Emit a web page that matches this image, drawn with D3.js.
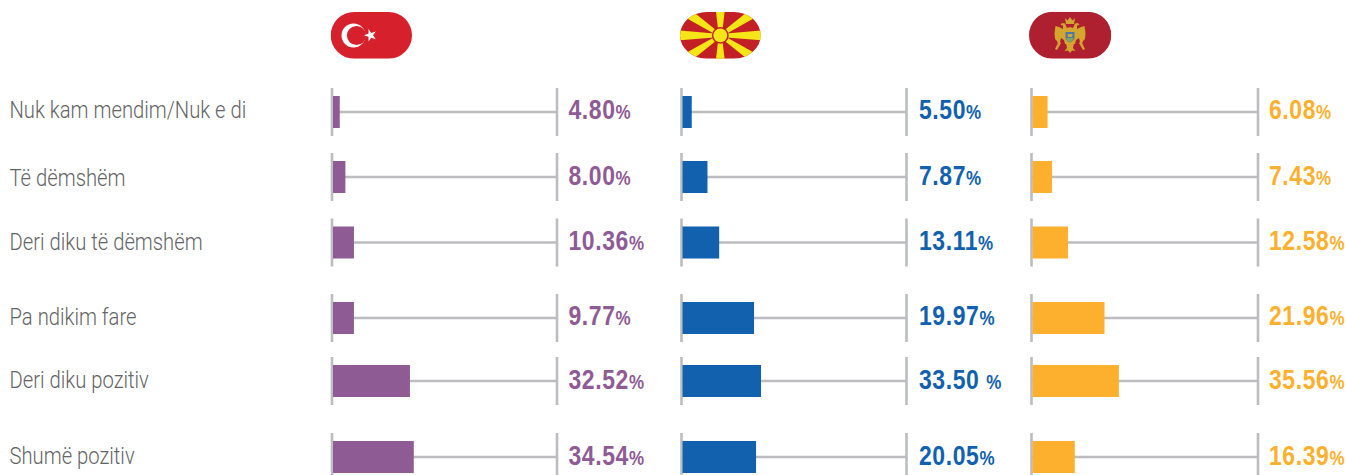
<!DOCTYPE html>
<html>
<head>
<meta charset="utf-8">
<script src="https://cdn.jsdelivr.net/npm/d3@7"></script>
<style>
html,body{margin:0;padding:0;background:#fff;overflow:hidden}
svg{display:block}
text{white-space:pre}
</style>
</head>
<body>
<svg id="chart" width="1346" height="475"></svg>
<script>
// ---- data ----
const categories = ["Nuk kam mendim/Nuk e di","Të dëmshëm","Deri diku të dëmshëm","Pa ndikim fare","Deri diku pozitiv","Shumë pozitiv"];
const countries = ["Turkey","North Macedonia","Montenegro"];
// printed values
const turkeyLabels = ["4.80","8.00","10.36","9.77","32.52","34.54"];
const macedoniaLabels = ["5.50","7.87","13.11","19.97","33.50 ","20.05"];
const montenegroLabels = ["6.08","7.43","12.58","21.96","35.56","16.39"];
// bar lengths as actually drawn in the picture (percent of the 0-100 track)
const turkeyBars = [3.0,5.5,9.3,9.3,34.2,35.9];
const macedoniaBars = [4.1,11.1,16.3,31.8,34.9,32.7];
const montenegroBars = [6.7,8.7,15.8,32.0,38.4,18.8];
const colors = ["#8f5b94","#1161ae","#fdb02e"];

// ---- layout ----
const rowCenters = [112,177,242.5,318,381,457];
const labelBaselines = [118,186,249.5,324.5,388,463.5];
const valueBaselines = [119,184.5,249.5,325,388.5,465];
const trackLefts = [332,681.5,1031.5];
const trackWidths = [225,225,226.5];
const valueLefts = [568.5,919,1269];
const barStart = 1, barH = 32, tickH = 48, barPxPerUnit = 2.25;
const labelScaleX = 0.88, valueScaleX = 0.85;

const svg = d3.select("#chart");
const y = d3.scaleOrdinal(categories, rowCenters);
const barLen = d3.scaleLinear().domain([0,100]).range([0,100*barPxPerUnit]);
const series = [
  {name:countries[0],labels:turkeyLabels,bars:turkeyBars},
  {name:countries[1],labels:macedoniaLabels,bars:macedoniaBars},
  {name:countries[2],labels:montenegroLabels,bars:montenegroBars}
];

// category labels
svg.append("g").selectAll("text").data(categories).join("text")
  .attr("transform",(d,i)=>`translate(9.5,${labelBaselines[i]}) scale(${labelScaleX},1)`)
  .attr("font-family","Roboto, 'Liberation Sans', sans-serif")
  .attr("font-weight",300).attr("font-size",23).attr("fill","#636466")
  .text(d=>d);

// panels
series.forEach((s,si)=>{
  const g = svg.append("g").attr("transform",`translate(${trackLefts[si]},0)`);
  const x = d3.scaleLinear().domain([0,100]).range([0,trackWidths[si]]);
  const rows = g.selectAll("g").data(categories).join("g");
  rows.append("line").attr("x1",x(0)).attr("x2",x(100))
    .attr("y1",d=>y(d)).attr("y2",d=>y(d))
    .attr("stroke","#bcbdc0").attr("stroke-width",2.6);
  [0,100].forEach(v=>{
    rows.append("line").attr("x1",x(v)).attr("x2",x(v))
      .attr("y1",d=>y(d)-tickH/2).attr("y2",d=>y(d)+tickH/2)
      .attr("stroke","#bcbdc0").attr("stroke-width",2.6);
  });
  rows.append("rect").attr("x",barStart)
    .attr("y",d=>y(d)-barH/2).attr("height",barH)
    .attr("width",(d,i)=>barLen(s.bars[i]))
    .attr("fill",colors[si]);
  const t = svg.append("g").selectAll("text").data(s.labels).join("text")
    .attr("transform",(d,i)=>`translate(${valueLefts[si]},${valueBaselines[i]}) scale(${valueScaleX},1)`)
    .attr("font-family","'Liberation Sans',sans-serif")
    .attr("fill",colors[si]);
  t.append("tspan").attr("font-weight",700).attr("font-size",27).attr("letter-spacing",0.7).text(d=>d);
  t.append("tspan").attr("font-weight",700).attr("font-size",20).text("%");
});

// flags
const defs = svg.append("defs");
function pill(id,px,py,w,h,rx,ry,fill){
  defs.append("clipPath").attr("id",id).append("rect")
    .attr("x",px).attr("y",py).attr("width",w).attr("height",h).attr("rx",rx).attr("ry",ry);
  const g = svg.append("g").attr("clip-path",`url(#${id})`);
  g.append("rect").attr("x",px).attr("y",py).attr("width",w).attr("height",h).attr("fill",fill);
  return g;
}
// Turkey
const tr = pill("fTR",330.7,12,81.3,46.7,23.4,23.4,"#d6202c");
tr.append("circle").attr("cx",353.5).attr("cy",35.5).attr("r",12).attr("fill","#fff");
tr.append("circle").attr("cx",356.5).attr("cy",35.5).attr("r",9.6).attr("fill","#d6202c");
tr.append("path").attr("transform","translate(370.5,35.3) rotate(-18)")
  .attr("d",d3.symbol(d3.symbolStar,48)).attr("fill","#fff");
// North Macedonia
const mk = pill("fMK",680,12,80.7,46.7,27,23.4,"#c32026");
const sunX=720.3,sunY=35.4;
[[0,6.5],[180,6.5],[90,8.7],[270,8.7],[34,6.5],[146,6.5],[214,6.5],[326,6.5]].forEach(([a,hw])=>{
  mk.append("path").attr("transform",`translate(${sunX},${sunY}) rotate(${a})`)
    .attr("d",`M0,-1.5L60,${-hw}L60,${hw}L0,1.5Z`).attr("fill","#f7e617");
});
mk.append("circle").attr("cx",sunX).attr("cy",sunY).attr("r",8.4).attr("fill","#c32026");
mk.append("circle").attr("cx",sunX).attr("cy",sunY).attr("r",6.9).attr("fill","#f7e617");
// Montenegro
const me = pill("fME",1029,11.7,82.3,47,23.5,23.5,"#ae1f2f");
const eg = me.append("g").attr("transform","translate(1070,35)");
const gold="#d4a62f";
[1,-1].forEach(m=>{
  const h = eg.append("g").attr("transform",`scale(${m},1)`);
  h.append("path").attr("fill",gold).attr("d","M0,-8L3,-7L5,-11.5L8,-12L9.5,-10L7,-9.5L7,-6L11,-8L14.5,-9L15.5,-2L15,4L13,6L12,9L10,7L9,3L6,5L5,9L0,9Z");
  h.append("path").attr("fill",gold).attr("d","M11,6L15,14L13,15L9,8Z");
});
eg.append("path").attr("fill",gold).attr("d","M-5,-17L-2.5,-14.5L0,-18L2.5,-14.5L5,-17L4,-11L-4,-11Z");
eg.append("path").attr("fill",gold).attr("d","M-4,8L4,8L3,13L5.5,16L2,15.5L0,18L-2,15.5L-5.5,16L-3,13Z");
eg.append("path").attr("fill","#4c78a8").attr("d","M-4.5,-3L4.5,-3L4.5,3C4.5,5 1,7 0,7.5C-1,7 -4.5,5 -4.5,3Z");
eg.append("path").attr("fill","#7fa65a").attr("d","M-3.8,3L3.8,3L2.5,5.5L0,7.2L-2.5,5.5Z");
eg.append("path").attr("fill",gold).attr("d","M-2.5,-1L2.5,-1L2,2L-2,2Z");
</script>
</body>
</html>
